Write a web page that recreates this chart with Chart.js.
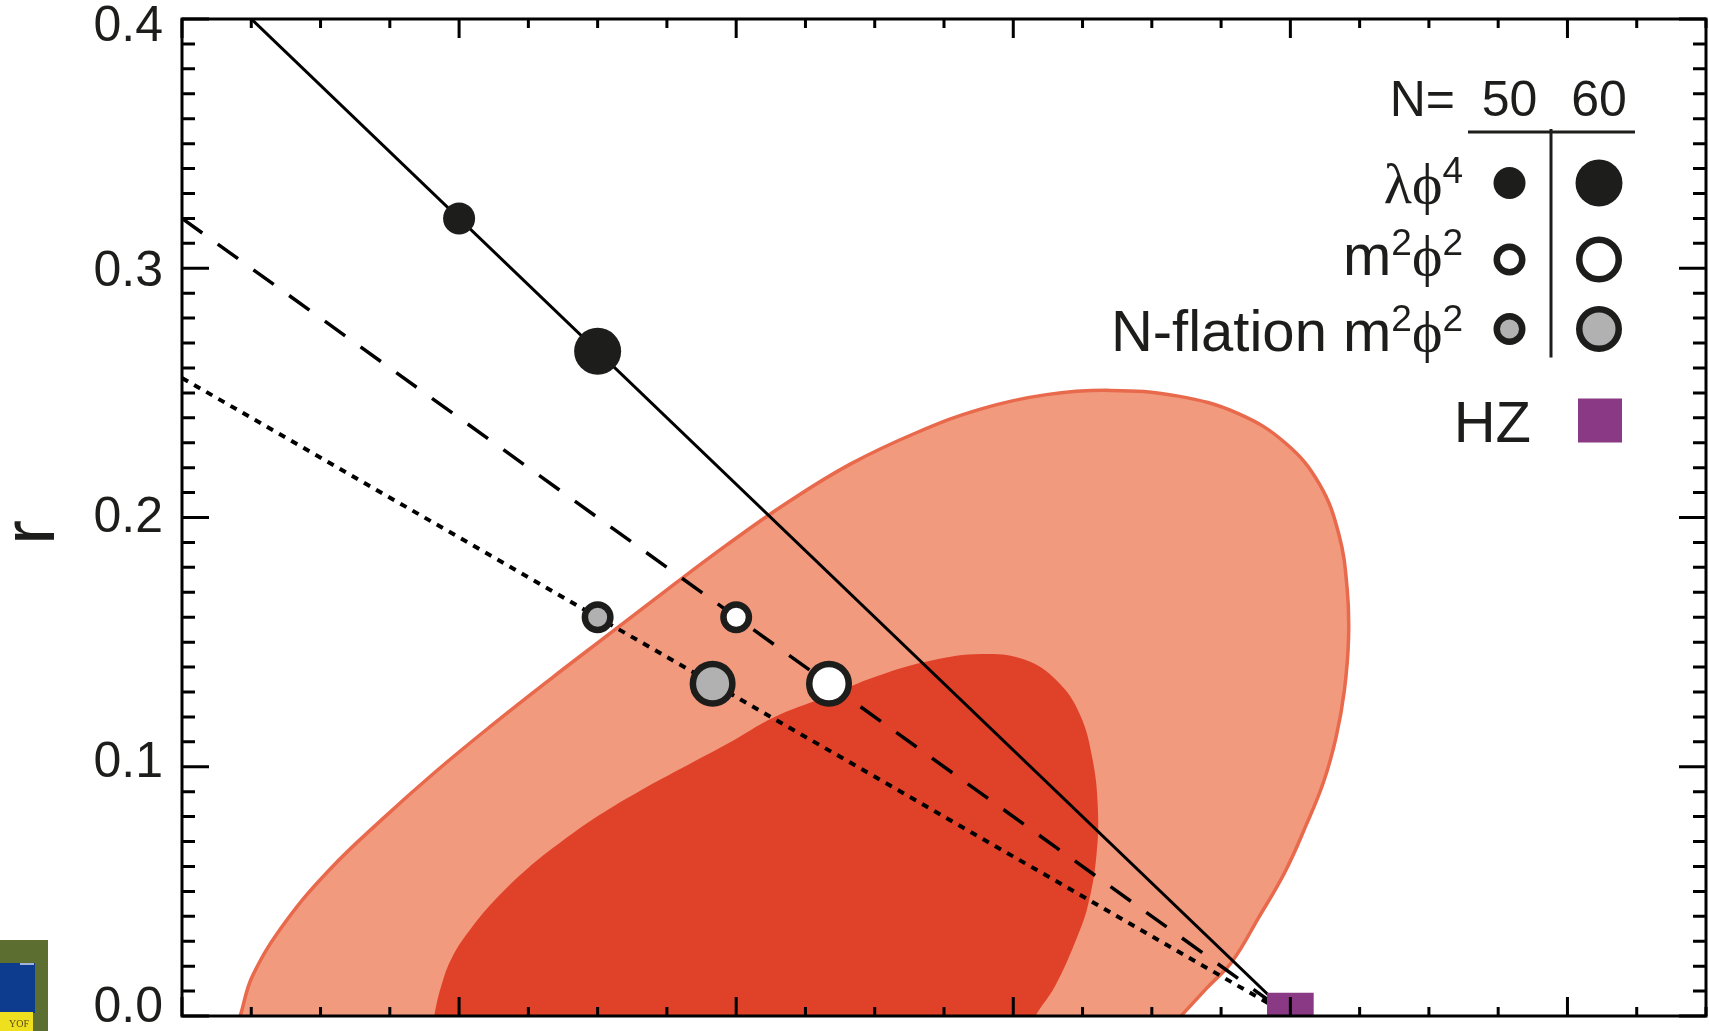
<!DOCTYPE html>
<html>
<head>
<meta charset="utf-8">
<title>r vs ns</title>
<script src="https://cdn.jsdelivr.net/npm/chart.js@4.4.1/dist/chart.umd.min.js"></script>
<style>
  html, body { margin: 0; padding: 0; background: #fff; }
  #wrap { width: 1709px; height: 1031px; }
</style>
</head>
<body>
<div id="wrap"><canvas id="canvas" width="1709" height="1031"></canvas></div>
<script>
// axis ranges / ticks
var nsRange = [0.92, 1.03];
var rRange = [0.0, 0.4];
var rTickLabels = ['0.0', '0.1', '0.2', '0.3', '0.4'];
var nsMajorStep = 0.02, nsMinorStep = 0.005;
var rMajorStep = 0.1, rMinorStep = 0.01;

// model predictions for N = 50, 60
var efolds = [50, 60];
var lambdaPhi4Ns = [0.94, 0.95];
var lambdaPhi4R = [0.32, 0.2667];
var m2phi2Ns = [0.96, 0.9667];
var m2phi2R = [0.16, 0.1333];
var nflationNs = [0.95, 0.9583];
var nflationR = [0.16, 0.1333];

// model lines running down to the HZ point
var lambdaLineNs = [0.92, 1.0];
var lambdaLineR = [0.4267, 0.0];
var m2LineNs = [0.92, 1.0];
var m2LineR = [0.32, 0.0];
var nflationLineNs = [0.92, 1.0];
var nflationLineR = [0.256, 0.0];

var hzNs = [1.0];
var hzR = [0.0];

// 95% region outline (runs a little below r = 0, cut off by the axis)
var outerNs = [0.9235, 0.9242, 0.9251, 0.9275, 0.9307, 0.9344, 0.9383, 0.9424, 0.9466, 0.9508, 0.9550,
               0.9593, 0.9637, 0.9682, 0.9730, 0.9777, 0.9824, 0.9870, 0.9918, 0.9962, 0.9997, 1.0021,
               1.0035, 1.0041, 1.0042, 1.0039, 1.0033, 1.0024, 1.0011, 0.9996, 0.9977, 0.9958, 0.9940,
               0.9921, 0.9900, 0.9235];
var outerR  = [-0.012, 0.000, 0.0162, 0.0380, 0.0590, 0.0787, 0.0980, 0.1168, 0.1352, 0.1531, 0.1710,
               0.1889, 0.2060, 0.2213, 0.2340, 0.2436, 0.2493, 0.2510, 0.2488, 0.2418, 0.2296, 0.2134,
               0.1933, 0.1714, 0.1517, 0.1307, 0.1119, 0.0940, 0.0761, 0.0577, 0.0394, 0.0219, 0.0114,
               0.000, -0.012, -0.012];

// 68% region outline
var innerNs = [0.9379, 0.9382, 0.9387, 0.9395, 0.9409, 0.9427, 0.9449, 0.9474, 0.9501, 0.9531, 0.9563,
               0.9594, 0.9627, 0.9663, 0.9702, 0.9741, 0.9777, 0.9808, 0.9832, 0.9848, 0.9857, 0.9861,
               0.9860, 0.9854, 0.9846, 0.9830, 0.9816, 0.9808, 0.9379];
var innerR  = [-0.010, 0.000, 0.0118, 0.0236, 0.0354, 0.0472, 0.0590, 0.0700, 0.0805, 0.0905, 0.1001,
               0.1093, 0.1198, 0.1277, 0.1364, 0.1426, 0.1452, 0.1430, 0.1342, 0.1211, 0.1036, 0.0840,
               0.0643, 0.0446, 0.0315, 0.0118, 0.000, -0.010, -0.010];

var INK = '#1d1d1b';
var GREY = '#b1b1b2';
var PURPLE = '#8a3a85';
var SANS = '"Liberation Sans", Arial, Helvetica, sans-serif';
var SERIF = '"Liberation Serif", "DejaVu Serif", "Times New Roman", serif';

// marker sizes for N=50 / N=60 (radius to the middle of the ring)
var ringRadius = [12.75, 19.75];
var ringWidth = 6.5;
var dotRadius = [16, 23.5];

function toPoints(xs, ys) {
    var pts = [];
    for (var i = 0; i < xs.length; i++) pts.push({x: xs[i], y: ys[i]});
    return pts;
}

function lineSet(xs, ys, width, dash, order) {
    return {
        data: toPoints(xs, ys),
        showLine: true,
        borderColor: '#000',
        borderWidth: width,
        borderDash: dash,
        pointRadius: 0,
        fill: false,
        clip: 0,
        order: order
    };
}

function ringSet(xs, ys, fillColor) {
    return {
        data: toPoints(xs, ys),
        showLine: false,
        pointStyle: 'circle',
        pointRadius: ringRadius,
        pointBorderWidth: ringWidth,
        pointBorderColor: INK,
        pointBackgroundColor: fillColor,
        clip: 0,
        order: 1
    };
}

// inward ticks on all four sides plus the box
var frameTicks = {
    id: 'frameTicks',
    afterDatasetsDraw: function (chart) {
        var ctx = chart.ctx, a = chart.chartArea;
        var xs = chart.scales.x, ys = chart.scales.y;
        ctx.save();
        ctx.strokeStyle = '#000';
        ctx.lineWidth = 3;
        ctx.lineCap = 'butt';
        ctx.beginPath();
        var n = Math.round((nsRange[1] - nsRange[0]) / nsMinorStep);
        for (var i = 0; i <= n; i++) {
            var v = nsRange[0] + i * nsMinorStep;
            var q = v / nsMajorStep;
            var len = Math.abs(q - Math.round(q)) < 1e-6 ? 19 : 9;
            var px = xs.getPixelForValue(v);
            ctx.moveTo(px, a.bottom); ctx.lineTo(px, a.bottom - len);
            ctx.moveTo(px, a.top); ctx.lineTo(px, a.top + len);
        }
        var m = Math.round((rRange[1] - rRange[0]) / rMinorStep);
        for (var j = 0; j <= m; j++) {
            var w = rRange[0] + j * rMinorStep;
            var len2 = j % Math.round(rMajorStep / rMinorStep) === 0 ? 27 : 13;
            var py = ys.getPixelForValue(w);
            ctx.moveTo(a.left, py); ctx.lineTo(a.left + len2, py);
            ctx.moveTo(a.right, py); ctx.lineTo(a.right - len2, py);
        }
        ctx.stroke();
        ctx.strokeRect(a.left, a.top, a.right - a.left, a.bottom - a.top);
        ctx.restore();
    }
};

function drawRich(ctx, parts, right, base) {
    var total = 0, i;
    for (i = 0; i < parts.length; i++) {
        ctx.font = parts[i].font;
        parts[i].w = ctx.measureText(parts[i].t).width;
        total += parts[i].w;
    }
    var x = right - total;
    ctx.textAlign = 'left';
    ctx.textBaseline = 'alphabetic';
    for (i = 0; i < parts.length; i++) {
        ctx.font = parts[i].font;
        ctx.fillText(parts[i].t, x, base - (parts[i].rise || 0));
        x += parts[i].w;
    }
}

function legendDot(ctx, x, y, k, fillColor, ring) {
    ctx.beginPath();
    if (ring) {
        ctx.arc(x, y, ringRadius[k], 0, Math.PI * 2);
        ctx.fillStyle = fillColor;
        ctx.fill();
        ctx.lineWidth = ringWidth;
        ctx.strokeStyle = INK;
        ctx.stroke();
    } else {
        ctx.arc(x, y, dotRadius[k], 0, Math.PI * 2);
        ctx.fillStyle = INK;
        ctx.fill();
    }
}

// table-style key in the upper right corner, axis title, panel scrap
var modelKey = {
    id: 'modelKey',
    afterDraw: function (chart) {
        var ctx = chart.ctx, a = chart.chartArea;
        var R = a.right, T = a.top;
        var col = [R - 196.5, R - 107];
        var rows = [T + 164, T + 240.5, T + 310];
        var bases = [T + 184, T + 256, T + 332];
        var rowFont = '58px ' + SANS;
        var greek = '58px ' + SERIF;
        var sup = '37px ' + SANS;
        var phi = '\u03D5';
        ctx.save();
        ctx.fillStyle = INK;

        ctx.font = '50px ' + SANS;
        ctx.textBaseline = 'alphabetic';
        ctx.textAlign = 'right';
        ctx.fillText('N=', R - 251, T + 96.5);
        ctx.textAlign = 'center';
        ctx.fillText(String(efolds[0]), col[0], T + 96.5);
        ctx.fillText(String(efolds[1]), col[1], T + 96.5);

        ctx.strokeStyle = INK;
        ctx.lineWidth = 3;
        ctx.beginPath();
        ctx.moveTo(R - 238, T + 113); ctx.lineTo(R - 71, T + 113);
        ctx.moveTo(R - 155, T + 110); ctx.lineTo(R - 155, T + 338.5);
        ctx.stroke();

        ctx.fillStyle = INK;
        drawRich(ctx, [{t: 'λ', font: greek}, {t: phi, font: greek}, {t: '4', font: sup, rise: 20}], R - 243, bases[0]);
        drawRich(ctx, [{t: 'm', font: rowFont}, {t: '2', font: sup, rise: 20}, {t: phi, font: greek}, {t: '2', font: sup, rise: 20}], R - 243, bases[1]);
        drawRich(ctx, [{t: 'N-flation m', font: rowFont}, {t: '2', font: sup, rise: 20}, {t: phi, font: greek}, {t: '2', font: sup, rise: 20}], R - 243, bases[2]);

        for (var k = 0; k < 2; k++) {
            legendDot(ctx, col[k], rows[0], k, INK, false);
            legendDot(ctx, col[k], rows[1], k, '#fff', true);
            legendDot(ctx, col[k], rows[2], k, GREY, true);
        }

        ctx.fillStyle = INK;
        ctx.font = rowFont;
        ctx.textAlign = 'right';
        ctx.fillText('HZ', R - 175, T + 422.5);
        ctx.fillStyle = PURPLE;
        ctx.fillRect(R - 128, T + 379.5, 44, 44);

        // y-axis title, reads bottom to top
        ctx.save();
        ctx.translate(a.left - 148, (a.top + a.bottom) / 2 + 15);
        ctx.rotate(-Math.PI / 2);
        ctx.fillStyle = INK;
        ctx.font = '74px ' + SANS;
        ctx.textAlign = 'center';
        ctx.textBaseline = 'middle';
        ctx.fillText('r', 0, 0);
        ctx.restore();

        // edge of the neighbouring panel at lower left
        ctx.fillStyle = '#5d6e31';
        ctx.fillRect(0, 940, 48, 91);
        ctx.fillStyle = '#0d3b8e';
        ctx.fillRect(0, 963, 35, 50);
        ctx.fillStyle = '#9fb4d8';
        ctx.fillRect(20, 963, 14, 2);
        ctx.fillStyle = '#efe01f';
        ctx.fillRect(0, 1012, 33, 19);
        ctx.fillStyle = '#5a4a1a';
        ctx.font = '10px ' + SERIF;
        ctx.textAlign = 'left';
        ctx.fillText('YOF', 9, 1027);
        ctx.restore();
    }
};

var datasets = [
    // markers on top
    {
        data: toPoints(lambdaPhi4Ns, lambdaPhi4R),
        showLine: false,
        pointStyle: 'circle',
        pointRadius: dotRadius,
        pointBorderWidth: 0,
        pointBackgroundColor: INK,
        clip: 0,
        order: 1
    },
    ringSet(m2phi2Ns, m2phi2R, '#fff'),
    ringSet(nflationNs, nflationR, GREY),
    {
        data: toPoints(hzNs, hzR),
        showLine: false,
        pointStyle: 'rect',
        pointRadius: 33,
        pointBorderWidth: 0,
        pointBackgroundColor: PURPLE,
        clip: 0,
        order: 2
    },
    lineSet(lambdaLineNs, lambdaLineR, 3, [], 3),
    lineSet(m2LineNs, m2LineR, 3.5, [25, 19], 3),
    lineSet(nflationLineNs, nflationLineR, 4, [7, 7], 3),
    {
        data: toPoints(innerNs, innerR),
        showLine: true,
        tension: 0.4,
        borderWidth: 0,
        borderColor: 'rgba(0,0,0,0)',
        backgroundColor: '#e04129',
        fill: 'shape',
        pointRadius: 0,
        clip: 0,
        order: 4
    },
    {
        data: toPoints(outerNs, outerR),
        showLine: true,
        tension: 0.4,
        borderWidth: 3.5,
        borderColor: '#e8694b',
        backgroundColor: '#f29a7e',
        fill: 'shape',
        pointRadius: 0,
        clip: 0,
        order: 5
    }
];

// the printed r labels sit on a slightly tighter spacing than the ticks
var rLabelMin = -0.0033, rLabelMax = 0.4035;

var ctx = document.getElementById('canvas').getContext('2d');
window.rChart = new Chart(ctx, {
    type: 'scatter',
    data: {datasets: datasets},
    options: {
        responsive: false,
        animation: false,
        events: [],
        layout: {autoPadding: false, padding: {left: 0, right: 3, top: 19, bottom: 15}},
        plugins: {
            legend: {display: false},
            tooltip: {enabled: false}
        },
        scales: {
            x: {
                type: 'linear',
                min: nsRange[0],
                max: nsRange[1],
                display: false
            },
            y: {
                type: 'linear',
                min: rRange[0],
                max: rRange[1],
                display: false
            },
            rLabels: {
                type: 'linear',
                position: 'left',
                min: rLabelMin,
                max: rLabelMax,
                grid: {display: false, drawTicks: false},
                border: {display: false},
                ticks: {
                    stepSize: rMajorStep,
                    includeBounds: false,
                    padding: 19,
                    color: INK,
                    font: {family: SANS, size: 50},
                    callback: function (value) {
                        var k = Math.round(value / rMajorStep);
                        return rTickLabels[k];
                    }
                },
                afterFit: function (scale) {
                    scale.width = 182;
                    scale.paddingTop = 0;
                    scale.paddingBottom = 0;
                }
            }
        }
    },
    plugins: [frameTicks, modelKey]
});
</script>
</body>
</html>
